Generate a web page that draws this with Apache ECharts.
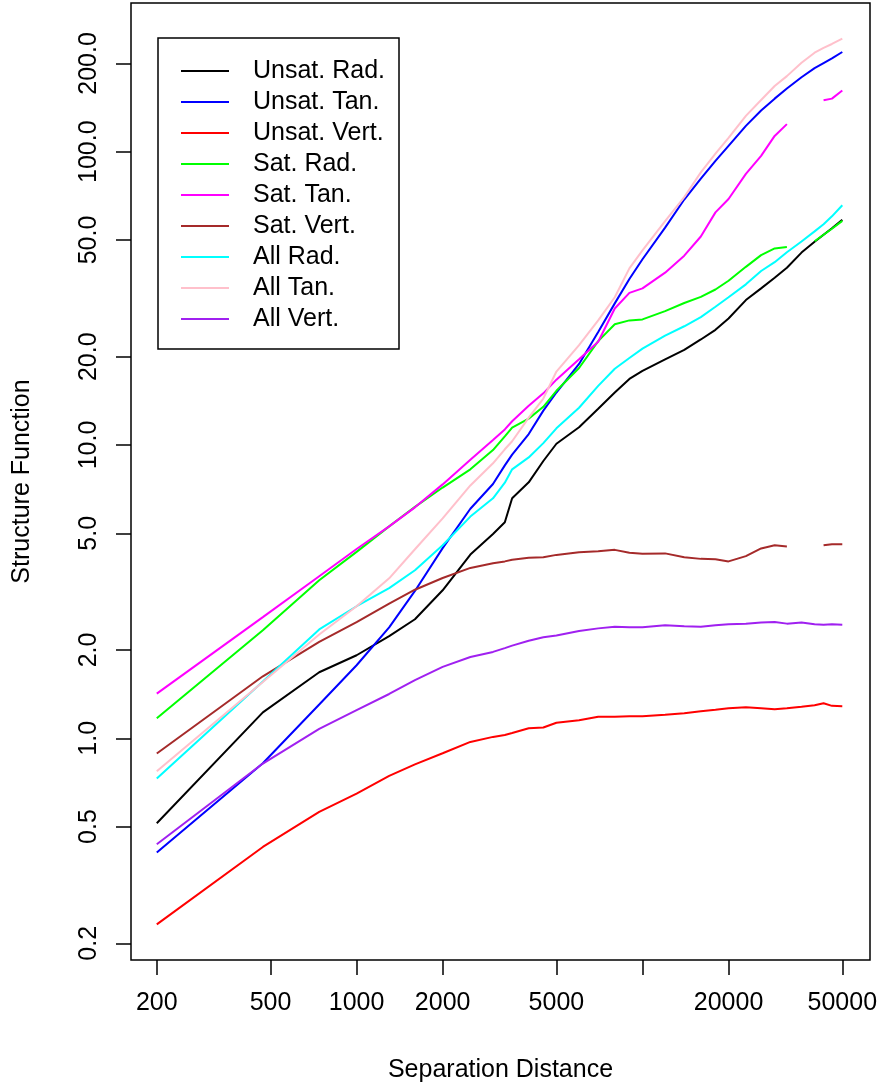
<!DOCTYPE html>
<html>
<head>
<meta charset="utf-8">
<script src="https://cdn.jsdelivr.net/npm/echarts@6/dist/echarts.min.js"></script>
<style>
html,body{margin:0;padding:0;background:#ffffff;}
#chart{width:881px;height:1086px;}
</style>
</head>
<body>
<div id="chart"></div>
<script>
// ---- data ----
const distances = [200, 470, 740, 1000, 1300, 1600, 2000, 2500, 3000, 3300, 3500, 4000, 4500, 5000, 6000, 7000, 8000, 9000, 10000, 12000, 14000, 16000, 18000, 20000, 23000, 26000, 29000, 32000, 36000, 40000, 43000, 46000, 50000];

const unsatRad  = [0.513, 1.226, 1.679, 1.919, 2.23, 2.546, 3.196, 4.23, 4.97, 5.45, 6.58, 7.46, 8.82, 10.1, 11.5, 13.3, 15.1, 16.8, 17.9, 19.6, 21.1, 22.9, 24.7, 27.0, 31.2, 34.2, 37.2, 40.2, 45.3, 49.3, 52.1, 54.8, 58.6];
const unsatTan  = [0.408, 0.822, 1.304, 1.774, 2.39, 3.18, 4.45, 6.06, 7.36, 8.52, 9.27, 10.9, 13.1, 15.1, 18.9, 24.3, 30.4, 36.8, 43.0, 55.1, 68.7, 80.9, 93.1, 104.7, 122.5, 138.2, 151.7, 164.3, 179.5, 192.8, 200.5, 208, 218.8];
const unsatVert = [0.232, 0.426, 0.561, 0.648, 0.744, 0.815, 0.889, 0.972, 1.011, 1.026, 1.042, 1.082, 1.088, 1.13, 1.152, 1.184, 1.184, 1.188, 1.188, 1.202, 1.217, 1.236, 1.251, 1.266, 1.276, 1.266, 1.256, 1.266, 1.28, 1.296, 1.316, 1.29, 1.285];
const satRad    = [1.17, 2.335, 3.46, 4.32, 5.28, 6.15, 7.16, 8.26, 9.61, 10.7, 11.46, 12.3, 13.5, 15.3, 18.3, 22.6, 25.8, 26.6, 26.8, 28.6, 30.5, 32.0, 33.9, 36.3, 40.5, 44.4, 46.8, 47.3, null, 49.5, 52.1, 54.6, 58.1];
const satTan    = [1.42, 2.59, 3.57, 4.42, 5.28, 6.13, 7.34, 8.91, 10.4, 11.3, 12.05, 13.6, 15.0, 16.7, 19.6, 22.5, 29.2, 33.0, 34.2, 38.7, 44.2, 51.4, 62.1, 69.0, 84.0, 96.8, 113.2, 124.2, null, null, 149.7, 151.7, 161.7];
const satVert   = [0.887, 1.627, 2.13, 2.49, 2.88, 3.21, 3.52, 3.81, 3.95, 4.01, 4.06, 4.13, 4.14, 4.22, 4.31, 4.34, 4.39, 4.29, 4.26, 4.27, 4.14, 4.09, 4.08, 4.01, 4.18, 4.44, 4.55, 4.51, null, null, 4.55, 4.59, 4.59];
const allRad    = [0.729, 1.563, 2.35, 2.82, 3.25, 3.74, 4.55, 5.7, 6.58, 7.44, 8.26, 9.07, 10.15, 11.4, 13.4, 15.9, 18.2, 19.8, 21.3, 23.6, 25.4, 27.3, 29.6, 31.9, 35.3, 39.2, 42.0, 45.4, 49.4, 53.5, 56.6, 60.2, 65.7];
const allTan    = [0.772, 1.556, 2.26, 2.82, 3.51, 4.41, 5.62, 7.28, 8.66, 9.67, 10.3, 12.4, 14.4, 17.8, 21.9, 26.6, 31.9, 40.0, 46.1, 58.0, 70.0, 85.0, 98.5, 111.5, 132.5, 150, 167.5, 181, 201, 217.6, 226, 233, 243];
const allVert   = [0.435, 0.820, 1.077, 1.248, 1.416, 1.579, 1.751, 1.893, 1.97, 2.03, 2.07, 2.15, 2.21, 2.24, 2.32, 2.37, 2.40, 2.39, 2.39, 2.43, 2.41, 2.40, 2.43, 2.45, 2.46, 2.48, 2.49, 2.46, 2.48, 2.45, 2.44, 2.45, 2.44];

const seriesNames = ['Unsat. Rad.', 'Unsat. Tan.', 'Unsat. Vert.', 'Sat. Rad.', 'Sat. Tan.', 'Sat. Vert.', 'All Rad.', 'All Tan.', 'All Vert.'];
const seriesValues = [unsatRad, unsatTan, unsatVert, satRad, satTan, satVert, allRad, allTan, allVert];

const xTickValues = [200, 500, 1000, 2000, 5000, 10000, 20000, 50000];
const xTickLabels = [200, 500, 1000, 2000, 5000, 20000, 50000];
const yTickValues = [0.2, 0.5, 1, 2, 5, 10, 20, 50, 100, 200];

const xTitle = 'Separation Distance';
const yTitle = 'Structure Function';

// ---- styles ----
const colors = ['#000000', '#0000FF', '#FF0000', '#00FF00', '#FF00FF', '#A52A2A', '#00FFFF', '#FFC0CB', '#A020F0'];
const FONT = '"Liberation Sans", Arial, Helvetica, sans-serif';

const chart = echarts.init(document.getElementById('chart'), null, {renderer: 'canvas'});

const series = seriesNames.map((name, k) => ({
  name: name,
  type: 'line',
  data: distances.map((d, i) => [d, seriesValues[k][i] == null ? '-' : seriesValues[k][i]]),
  symbol: 'none',
  showSymbol: false,
  connectNulls: false,
  lineStyle: {color: colors[k], width: 2},
  itemStyle: {color: colors[k]},
  emphasis: {disabled: true},
  z: 2
}));

chart.setOption({
  animation: false,
  backgroundColor: '#ffffff',
  color: colors,
  grid: {
    left: 131, top: 3, width: 739, height: 957,
    show: true, borderColor: '#000', borderWidth: 1.5, backgroundColor: 'transparent',
    containLabel: false
  },
  xAxis: {
    type: 'log', logBase: 10, min: 162.5, max: 62500,
    axisLine: {show: false},
    splitLine: {show: false},
    minorTick: {show: false},
    axisTick: {show: true, length: 15, lineStyle: {color: '#000', width: 1.5}, customValues: xTickValues},
    axisLabel: {
      customValues: xTickLabels,
      formatter: v => String(Math.round(v)),
      color: '#000', fontSize: 25, fontFamily: FONT, margin: 31
    }
  },
  yAxis: {
    type: 'log', logBase: 10, min: 0.1754, max: 321.4,
    axisLine: {show: false},
    splitLine: {show: false},
    minorTick: {show: false},
    axisTick: {show: true, length: 15, lineStyle: {color: '#000', width: 1.5}, customValues: yTickValues},
    axisLabel: {
      customValues: yTickValues,
      formatter: v => Number(v).toFixed(1),
      rotate: 90,
      color: '#000', fontSize: 25, fontFamily: FONT, margin: 29
    }
  },
  legend: {
    data: seriesNames,
    orient: 'vertical',
    left: 158, top: 38,
    padding: [20.5, 14, 17.5, 23],
    itemGap: 6,
    itemWidth: 48,
    itemHeight: 2,
    icon: 'rect',
    borderColor: '#000', borderWidth: 1.5,
    backgroundColor: '#fff',
    selectedMode: false,
    textStyle: {color: '#000', fontSize: 25, fontFamily: FONT, padding: [0, 0, 0, 19]}
  },
  graphic: [
    {type: 'text', x: 500.5, y: 1070, z: 10,
     style: {text: xTitle, fill: '#000', font: '25px ' + FONT, textAlign: 'center', textVerticalAlign: 'middle'}},
    {type: 'text', x: 22, y: 481.5, rotation: Math.PI / 2, z: 10,
     style: {text: yTitle, fill: '#000', font: '25px ' + FONT, textAlign: 'center', textVerticalAlign: 'middle'}}
  ],
  series: series
});
</script>
</body>
</html>
